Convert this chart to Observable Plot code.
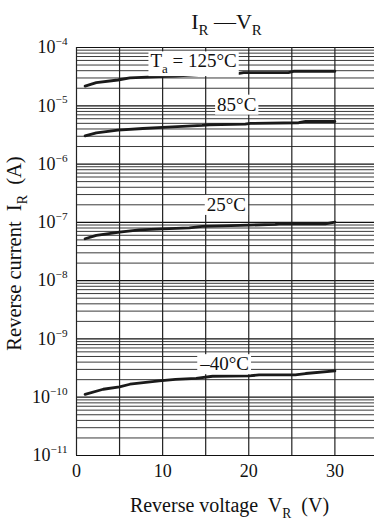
<!DOCTYPE html>
<html>
<head>
<meta charset="utf-8">
<script src="https://cdn.jsdelivr.net/npm/d3@7"></script>
<script src="https://cdn.jsdelivr.net/npm/@observablehq/plot@0.6"></script>
<style>
  html, body { margin: 0; padding: 0; background: #fff; }
  #chart svg { display: block; overflow: visible; }
  #chart svg text { font-family: 'Liberation Serif', 'Times New Roman', serif !important; white-space: pre; }
</style>
</head>
<body>
<div id="chart"></div>
<script>
// ---- data ----
const v125 = [1.0, 2.3, 4.8, 6.2, 9.6, 11.5, 14.2, 14.8, 18.9, 19.4, 24.6, 25.2, 30];
const i125 = [2.18e-5, 2.50e-5, 2.77e-5, 3.0e-5, 3.17e-5, 3.24e-5, 3.43e-5, 3.51e-5, 3.61e-5, 3.72e-5, 3.72e-5, 3.91e-5, 3.91e-5];

const v85 = [1.0, 2.3, 4.8, 7.7, 10.0, 14.6, 15.4, 19.6, 20.2, 25.8, 26.6, 30];
const i85 = [3.05e-6, 3.44e-6, 3.82e-6, 4.08e-6, 4.25e-6, 4.6e-6, 4.73e-6, 4.84e-6, 4.98e-6, 5.12e-6, 5.38e-6, 5.38e-6];

const v25 = [1.0, 2.3, 5.0, 7.3, 10.0, 13.1, 14.6, 16.9, 20.0, 23.1, 23.5, 28.9, 30];
const i25 = [5.23e-8, 5.96e-8, 6.81e-8, 7.46e-8, 7.76e-8, 8.07e-8, 8.5e-8, 8.73e-8, 8.97e-8, 9.2e-8, 9.46e-8, 9.46e-8, 1.01e-7];

const vm40 = [1.0, 3.1, 5.0, 6.2, 9.6, 11.5, 13.9, 15.8, 20.0, 21.2, 25.4, 26.6, 30];
const im40 = [1.12e-10, 1.37e-10, 1.5e-10, 1.67e-10, 1.9e-10, 2.03e-10, 2.11e-10, 2.29e-10, 2.32e-10, 2.41e-10, 2.41e-10, 2.55e-10, 2.83e-10];

const labelText = ["T_{a} = 125°C", "85°C", "25°C", "–40°C"];
const labelV = [13.6, 18.6, 17.4, 17.2];
const labelI = [5.8e-5, 1.05e-5, 2.0e-7, 3.7e-10];

const xTicks = [0, 10, 20, 30];
const xGrid = [0, 5, 10, 15, 20, 25, 30];
const yTicks = [1e-11, 1e-10, 1e-9, 1e-8, 1e-7, 1e-6, 1e-5, 1e-4];
const yMultipliers = [1, 2, 3, 4, 5, 6, 7, 8, 9];

const titleText = "I_{R} —V_{R}";
const xLabel = "Reverse voltage  V_{R}  (V)";
const yLabel = "Reverse current  I_{R}  (A)";

// ---- tables built from the arrays ----
const series = [
  {name: "125", v: v125, i: i125},
  {name: "85", v: v85, i: i85},
  {name: "25", v: v25, i: i25},
  {name: "-40", v: vm40, i: im40}
];
const rows = series.flatMap(s => s.v.map((v, k) => ({series: s.name, v, i: s.i[k]})));
const labels = labelText.map((t, k) => ({t, v: labelV[k], i: labelI[k]}));
const yGridMinor = yTicks.slice(0, -1).flatMap(d => yMultipliers.slice(1).map(m => m * d));

const font = "'Liberation Serif', 'Times New Roman', serif";

const plot = Plot.plot({
  width: 374,
  height: 526,
  marginLeft: 76,
  marginRight: 0,
  marginTop: 47,
  marginBottom: 71,
  style: {fontFamily: font, fontSize: "18px", color: "#111", background: "#fff"},
  x: {domain: [0, 34.6], ticks: xTicks, tickSize: 0, tickPadding: 9, label: null},
  y: {type: "log", domain: [1e-11, 1e-4], ticks: yTicks, tickSize: 0, tickPadding: 9, label: null,
      tickFormat: d => "10^{−" + Math.round(-Math.log10(d)) + "}"},
  marks: [
    Plot.ruleY(yGridMinor, {stroke: "#3a3a3a", strokeWidth: 1}),
    Plot.ruleY(yTicks, {stroke: "#111", strokeWidth: 1.2}),
    Plot.ruleX(xGrid, {stroke: "#222", strokeWidth: 1.2}),
    Plot.line(rows, {x: "v", y: "i", z: "series", stroke: "#1a1a1a", strokeWidth: 2.8, strokeLinejoin: "round"}),
    Plot.text(labels, {x: "v", y: "i", text: "t", fontSize: 19, fill: "#111", textAnchor: "middle", lineAnchor: "middle", ariaDescription: "curve-labels"}),
    Plot.text([titleText], {frameAnchor: "top", textAnchor: "middle", lineAnchor: "middle", dx: 1, dy: -26, fontSize: 22, fill: "#111"}),
    Plot.text([xLabel], {frameAnchor: "bottom", textAnchor: "middle", lineAnchor: "middle", dx: 4, dy: 50, fontSize: 20, fill: "#111"}),
    Plot.text([yLabel], {frameAnchor: "left", textAnchor: "middle", lineAnchor: "middle", rotate: -90, dx: -62, dy: 2, fontSize: 20.5, fill: "#111"})
  ]
});

document.getElementById("chart").appendChild(plot);

// turn _{..} and ^{..} markup into real sub/superscript tspans
function richText(el) {
  const s = el.textContent;
  if (!/[_^]\{/.test(s)) return;
  const fs = parseFloat(getComputedStyle(el).fontSize) || 15;
  while (el.firstChild) el.removeChild(el.firstChild);
  const re = /([_^])\{([^}]*)\}/g;
  let last = 0, m, cur = 0;
  const add = (txt, off, size) => {
    const t = document.createElementNS("http://www.w3.org/2000/svg", "tspan");
    const dy = off - cur;
    if (dy) t.setAttribute("dy", dy.toFixed(2));
    if (size) t.setAttribute("font-size", size.toFixed(1));
    t.textContent = txt;
    el.appendChild(t);
    cur = off;
  };
  while ((m = re.exec(s))) {
    if (m.index > last) add(s.slice(last, m.index), 0);
    if (m[1] === "_") add(m[2], fs * 0.3, fs * 0.68);
    else add(m[2], -fs * 0.45, fs * 0.62);
    last = re.lastIndex;
  }
  if (last < s.length) add(s.slice(last), 0);
}
plot.querySelectorAll("text").forEach(richText);

// white boxes behind the curve labels (sized from the rendered text)
plot.querySelectorAll('[aria-description="curve-labels"] text').forEach(el => {
  const b = el.getBBox();
  const r = document.createElementNS("http://www.w3.org/2000/svg", "rect");
  const tr = el.getAttribute("transform");
  if (tr) r.setAttribute("transform", tr);
  r.setAttribute("x", (b.x - 2).toFixed(1));
  r.setAttribute("y", (b.y + 1).toFixed(1));
  r.setAttribute("width", (b.width + 4).toFixed(1));
  r.setAttribute("height", (b.height - 1).toFixed(1));
  r.setAttribute("fill", "white");
  el.parentNode.insertBefore(r, el);
});
</script>
</body>
</html>
